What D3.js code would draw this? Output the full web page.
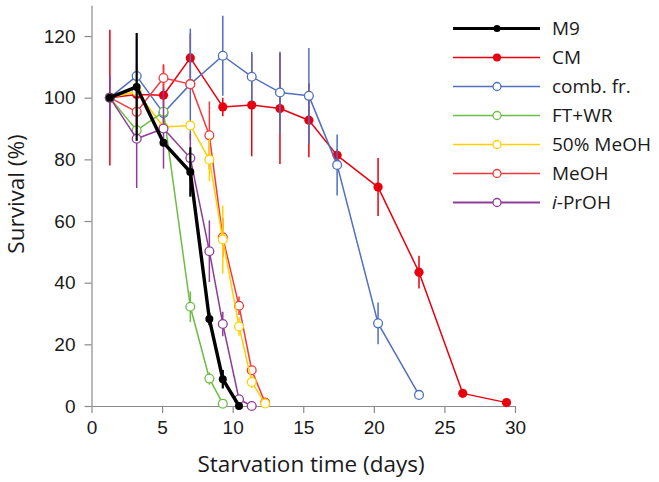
<!DOCTYPE html>
<html>
<head>
<meta charset="utf-8">
<script src="https://cdn.jsdelivr.net/npm/d3@7"></script>
<style>
  html, body { margin: 0; padding: 0; background: #fff; }
  svg { display: block; font-family: "Open Sans", "Noto Sans", sans-serif; }
</style>
</head>
<body>
<svg id="chart" width="659" height="482"></svg>
<script>
// ---- Data ----
const seriesNames = ["M9", "CM", "comb. fr.", "FT+WR", "50% MeOH", "MeOH", "i-PrOH"];

const m9Days  = [1.3, 3.2, 5.1, 7.0, 8.35, 9.3, 10.45];
const m9Vals  = [100, 103.5, 85.4, 75.9, 28.2, 8.7, 0];
const m9Err   = [0, 17.5, 0, 8, 2, 3, 0];

const cmDays  = [1.3, 3.2, 5.1, 7.0, 9.3, 11.35, 13.35, 15.4, 17.4, 20.3, 23.2, 26.3, 29.4];
const cmVals  = [100, 101, 100.8, 112.9, 97, 97.6, 96.5, 92.7, 81.3, 71, 43.4, 4.1, 1.1];
const cmErr   = [22, 10, 10, 8, 3, 16.6, 18, 12, 2, 9.4, 5.3, 0, 0];

const combDays = [1.3, 3.2, 5.1, 7.0, 9.3, 11.35, 13.35, 15.4, 17.4, 20.3, 23.2];
const combVals = [100, 107, 95, 104.4, 113.6, 106.8, 101.7, 100.6, 78.2, 26.8, 3.6];
const combErr  = [0, 12, 0, 18, 13, 8, 13.2, 15.5, 9.9, 6.8, 1];

const ftDays  = [1.3, 3.2, 5.1, 7.0, 8.35, 9.3];
const ftVals  = [100, 89.4, 95.4, 32.2, 8.9, 0.75];
const ftErr   = [0, 0, 0, 5, 2, 0];

const meoh50Days = [1.3, 3.2, 5.1, 7.0, 8.35, 9.3, 10.45, 11.35, 12.3];
const meoh50Vals = [100, 102, 90.5, 91, 79.9, 54, 25.8, 7.8, 0.8];
const meoh50Err  = [0, 7, 0, 0, 7, 11, 3, 2, 0];

const meohDays = [1.3, 3.2, 5.1, 7.0, 8.35, 9.3, 10.45, 11.35, 12.3];
const meohVals = [100, 95.4, 106.4, 104.4, 87.8, 54.7, 32.5, 11.6, 1.1];
const meohErr  = [0, 0, 4, 0, 11, 6.3, 3, 0, 0];

const iproDays = [1.3, 3.2, 5.1, 7.0, 8.35, 9.3, 10.45, 11.35];
const iproVals = [100, 86.7, 90, 80.4, 50.2, 26.6, 2.2, 0];
const iproErr  = [7.3, 16, 13, 8, 10, 4, 0, 0];

const xTicks = [0, 5, 10, 15, 20, 25, 30];
const yTicks = [0, 20, 40, 60, 80, 100, 120];

// ---- Styles ----
const styles = {
  "M9":        { color: "#000000", width: 3.4, filled: true,  r: 4 },
  "CM":        { color: "#e8000e", width: 1.5, filled: true,  r: 4.6 },
  "comb. fr.": { color: "#4f6fc0", width: 1.5, filled: false, r: 4.4 },
  "FT+WR":     { color: "#6cbd45", width: 1.5, filled: false, r: 4.4 },
  "50% MeOH":  { color: "#ffd000", width: 1.5, filled: false, r: 4.4 },
  "MeOH":      { color: "#f23a3e", width: 1.5, filled: false, r: 4.4 },
  "i-PrOH":    { color: "#8e3d97", width: 1.5, filled: false, r: 4.4 }
};

const series = [
  { name: "M9",        days: m9Days,     vals: m9Vals,     err: m9Err },
  { name: "CM",        days: cmDays,     vals: cmVals,     err: cmErr },
  { name: "comb. fr.", days: combDays,   vals: combVals,   err: combErr },
  { name: "FT+WR",     days: ftDays,     vals: ftVals,     err: ftErr },
  { name: "50% MeOH",  days: meoh50Days, vals: meoh50Vals, err: meoh50Err },
  { name: "MeOH",      days: meohDays,   vals: meohVals,   err: meohErr },
  { name: "i-PrOH",    days: iproDays,   vals: iproVals,   err: iproErr }
].map(s => ({ ...s, pts: s.days.map((d, i) => ({ x: d, y: s.vals[i], e: s.err[i] })) }));

// ---- Layout ----
const svg = d3.select("#chart");
const x = d3.scaleLinear().domain([0, 30]).range([91.5, 515]);
const y = d3.scaleLinear().domain([0, 130]).range([406, 5.2]);
const axisColor = "#8a8a8a";

// axes
const gx = svg.append("g").attr("transform", `translate(0,${y(0)})`)
  .call(d3.axisBottom(x).tickValues(xTicks).tickSize(7).tickSizeOuter(0).tickPadding(8));
const gy = svg.append("g").attr("transform", `translate(${x(0)},0)`)
  .call(d3.axisLeft(y).tickValues(yTicks).tickSize(7).tickSizeOuter(0).tickPadding(9));
[gx, gy].forEach(g => {
  g.select(".domain").attr("stroke", axisColor).attr("stroke-width", 1.2);
  g.selectAll(".tick line").attr("stroke", axisColor).attr("stroke-width", 1.2);
  g.selectAll(".tick text").attr("fill", "#1a1a1a").style("font-size", "19px");
});

// axis titles
svg.append("text").attr("x", 311).attr("y", 472).attr("text-anchor", "middle")
  .attr("fill", "#1a1a1a").style("font-size", "22.5px").text("Starvation time (days)");
svg.append("text").attr("transform", `translate(24,194) rotate(-90)`).attr("text-anchor", "middle")
  .attr("fill", "#1a1a1a").style("font-size", "22.5px").text("Survival (%)");

// draw series (reverse order, M9 on top)
const line = d3.line().x(d => x(d.x)).y(d => y(d.y));
const drawOrder = ["CM", "comb. fr.", "MeOH", "50% MeOH", "FT+WR", "i-PrOH", "M9"];
drawOrder.forEach(name => {
  const s = series.find(d => d.name === name);
  const st = styles[name];
  const g = svg.append("g");
  g.selectAll("line.err").data(s.pts.filter(p => p.e > 0)).join("line")
    .attr("x1", p => x(p.x)).attr("x2", p => x(p.x))
    .attr("y1", p => y(p.y + p.e)).attr("y2", p => y(p.y - p.e))
    .attr("stroke", st.color).attr("stroke-width", name === "M9" ? 2.2 : 1.5);
  g.append("path").datum(s.pts).attr("d", line).attr("fill", "none")
    .attr("stroke", st.color).attr("stroke-width", st.width).attr("stroke-linejoin", "round");
  g.selectAll("circle").data(s.pts).join("circle")
    .attr("cx", p => x(p.x)).attr("cy", p => y(p.y)).attr("r", st.r)
    .attr("fill", st.filled ? st.color : "#fff")
    .attr("stroke", st.color).attr("stroke-width", st.filled ? 0 : 1.3);
});

// legend
const lg = svg.append("g");
seriesNames.forEach((name, i) => {
  const st = styles[name];
  const yy = 28.5 + i * 29;
  lg.append("line").attr("x1", 453).attr("x2", 540).attr("y1", yy).attr("y2", yy)
    .attr("stroke", st.color).attr("stroke-width", name === "M9" ? 3 : (name === "i-PrOH" ? 2 : 1.6));
  lg.append("circle").attr("cx", 497).attr("cy", yy).attr("r", name === "M9" ? 3.6 : 4)
    .attr("fill", st.filled ? st.color : "#fff").attr("stroke", st.color)
    .attr("stroke-width", st.filled ? 0 : 1.3);
  const t = lg.append("text").attr("x", 552).attr("y", yy + 6.7).attr("fill", "#1a1a1a")
    .style("font-size", "19px");
  if (name === "i-PrOH") {
    t.append("tspan").style("font-style", "italic").text("i");
    t.append("tspan").text("-PrOH");
  } else {
    t.text(name);
  }
});
</script>
</body>
</html>
